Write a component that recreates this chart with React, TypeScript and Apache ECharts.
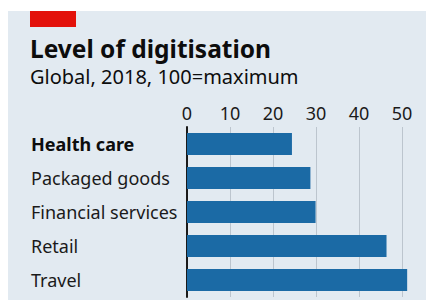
import React, { useEffect, useRef } from "react";
import * as echarts from "echarts";

const categories = ["Health care", "Packaged goods", "Financial services", "Retail", "Travel"];
const values = [24.4, 28.7, 29.9, 46.4, 51.2];
const titleText = "Level of digitisation";
const subtitleText = "Global, 2018, 100=maximum";

export default function App() {
  const ref = useRef<HTMLDivElement>(null);
  useEffect(() => {
    document.body.style.margin = "0";
    const chart = echarts.init(ref.current!, null, { renderer: "svg" });
    const font = "'Noto Sans', sans-serif";
    chart.setOption({
      animation: false,
      backgroundColor: "#ffffff",
      graphic: [
        { type: "rect", shape: { x: 8, y: 11, width: 418, height: 289 }, style: { fill: "#E2EAF1" }, z: -10 },
        { type: "rect", shape: { x: 30, y: 11, width: 46, height: 16 }, style: { fill: "#E3120B" }, z: -5 },
        {
          type: "text",
          x: 30,
          y: 48,
          style: { text: titleText, font: `bold 24.5px ${font}`, fill: "#0d0d0d", verticalAlign: "middle" },
        },
        {
          type: "text",
          x: 30,
          y: 76,
          style: { text: subtitleText, font: `20px ${font}`, fill: "#0d0d0d", verticalAlign: "middle" },
        },
      ],
      grid: { left: 187, width: 215, top: 127, height: 170 },
      xAxis: {
        type: "value",
        position: "top",
        min: 0,
        max: 50,
        interval: 10,
        axisLine: { show: false },
        axisTick: { show: false },
        axisLabel: { fontSize: 18, fontFamily: font, color: "#1a1a1a", margin: 5 },
        splitLine: { show: true, lineStyle: { color: "#BCC5CE", width: 1 } },
      },
      yAxis: {
        type: "category",
        inverse: true,
        data: categories,
        axisLine: { show: true, lineStyle: { color: "#1a1a1a", width: 2 } },
        axisTick: { show: false },
        axisLabel: {
          fontSize: 18,
          fontFamily: font,
          color: "#1a1a1a",
          align: "left",
          margin: 156,
          formatter: (v: string, i: number) => (i === 0 ? `{b|${v}}` : v),
          rich: { b: { fontWeight: "bold", fontSize: 18, fontFamily: font, color: "#0d0d0d" } },
        },
      },
      series: [
        {
          type: "bar",
          data: values,
          barWidth: 22,
          clip: false,
          itemStyle: { color: "#1B6AA5" },
        },
      ],
    });
    return () => chart.dispose();
  }, []);
  return <div ref={ref} style={{ width: 426, height: 304 }} />;
}
